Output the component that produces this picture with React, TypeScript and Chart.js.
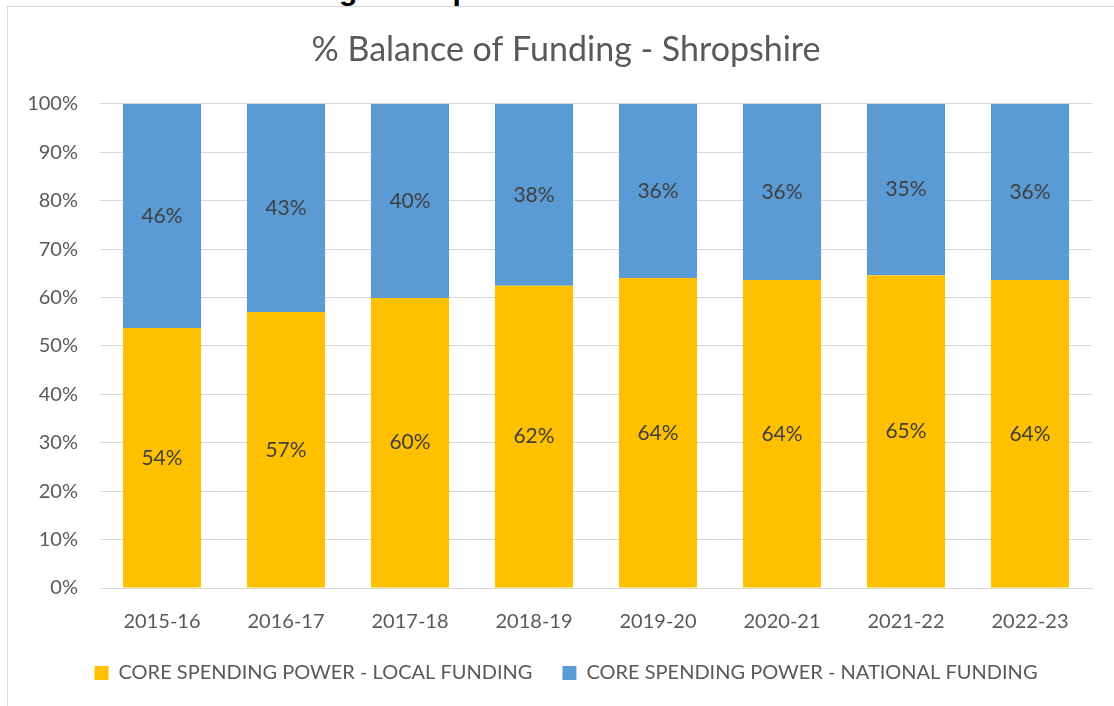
import React, { useEffect, useRef } from "react";
import { Chart, registerables } from "chart.js";

Chart.register(...registerables);

const categories = ["2015-16", "2016-17", "2017-18", "2018-19", "2019-20", "2020-21", "2021-22", "2022-23"];
const localFunding = [53.7, 57.0, 59.9, 62.4, 64.0, 63.6, 64.6, 63.6];
const nationalFunding = [46.3, 43.0, 40.1, 37.6, 36.0, 36.4, 35.4, 36.4];
const yTicks = [0, 10, 20, 30, 40, 50, 60, 70, 80, 90, 100];

const FONT = "Lato, 'Liberation Sans', sans-serif";

const barLabels = {
  id: "barLabels",
  afterDatasetsDraw(chart: any) {
    const ctx = chart.ctx;
    ctx.save();
    ctx.fillStyle = "#404040";
    ctx.font = `21px ${FONT}`;
    ctx.textAlign = "center";
    ctx.textBaseline = "middle";
    chart.data.datasets.forEach((ds: any, di: number) => {
      const meta = chart.getDatasetMeta(di);
      meta.data.forEach((bar: any, i: number) => {
        const p = bar.getProps(["x", "y", "base"], true);
        const cy = (p.y + p.base) / 2;
        ctx.fillText(Math.round(ds.data[i]) + "%", p.x, cy);
      });
    });
    ctx.restore();
  },
};

const shiftBoxes = {
  id: "shiftBoxes",
  afterLayout(chart: any) {
    if (chart.legend) {
      chart.legend.left += 16;
      chart.legend.right += 16;
    }
    if (chart.titleBlock) {
      chart.titleBlock.left += 16;
      chart.titleBlock.right += 16;
    }
  },
};

export default function App() {
  const ref = useRef<HTMLCanvasElement>(null);
  useEffect(() => {
    if (!ref.current) return;
    const chart = new Chart(ref.current, {
      type: "bar",
      data: {
        labels: categories,
        datasets: [
          {
            label: "CORE SPENDING POWER - LOCAL FUNDING",
            data: localFunding,
            backgroundColor: "#FFC000",
            barPercentage: 0.63,
            categoryPercentage: 1,
          },
          {
            label: "CORE SPENDING POWER - NATIONAL FUNDING",
            data: nationalFunding,
            backgroundColor: "#5B9BD5",
            barPercentage: 0.63,
            categoryPercentage: 1,
          },
        ],
      },
      options: {
        responsive: false,
        animation: false,
        layout: { padding: { left: 8, right: 22, top: 0, bottom: 13 } },
        plugins: {
          title: {
            display: true,
            text: "% Balance of Funding - Shropshire",
            color: "#595959",
            font: { family: FONT, size: 34, weight: "normal" },
            padding: { top: 30, bottom: 33 },
          },
          legend: {
            position: "bottom",
            labels: {
              color: "#595959",
              font: { family: FONT, size: 20 },
              boxWidth: 14,
              boxHeight: 14,
              padding: 30,
            },
          },
          tooltip: { enabled: false },
        },
        scales: {
          x: {
            stacked: true,
            grid: { display: false, drawTicks: false },
            border: { color: "#d9d9d9" },
            ticks: { color: "#595959", font: { family: FONT, size: 20 }, padding: 22 },
            afterFit: (axis: any) => {
              axis.height = 45;
            },
          },
          y: {
            stacked: true,
            min: 0,
            max: 100,
            afterBuildTicks: (axis: any) => {
              axis.ticks = yTicks.map((v) => ({ value: v }));
            },
            grid: { color: "#d9d9d9", drawTicks: false },
            border: { display: false },
            ticks: {
              color: "#595959",
              font: { family: FONT, size: 20 },
              padding: 22,
              callback: (v: any) => v + "%",
            },
            afterFit: (axis: any) => {
              axis.width = 92;
            },
          },
        },
      },
      plugins: [barLabels, shiftBoxes],
    });
    return () => chart.destroy();
  }, []);

  return (
    <div style={{ position: "fixed", left: 0, top: 0, width: 1114, height: 706, overflow: "hidden", background: "#fff" }}>
      <div
        style={{
          position: "absolute",
          left: -6,
          top: -26,
          whiteSpace: "nowrap",
          fontFamily: "'Liberation Sans', sans-serif",
          fontWeight: "bold",
          fontSize: 30,
          lineHeight: "32px",
          color: "#000",
        }}
      >
        3.5 % Balance of Funding - Shropshire
      </div>
      <div
        style={{
          position: "absolute",
          left: 7,
          top: 6,
          width: 1200,
          height: 800,
          border: "1px solid #d9d9d9",
          background: "#fff",
        }}
      />
      <canvas ref={ref} width={1114} height={706} style={{ position: "absolute", left: 0, top: 0 }} />
    </div>
  );
}
